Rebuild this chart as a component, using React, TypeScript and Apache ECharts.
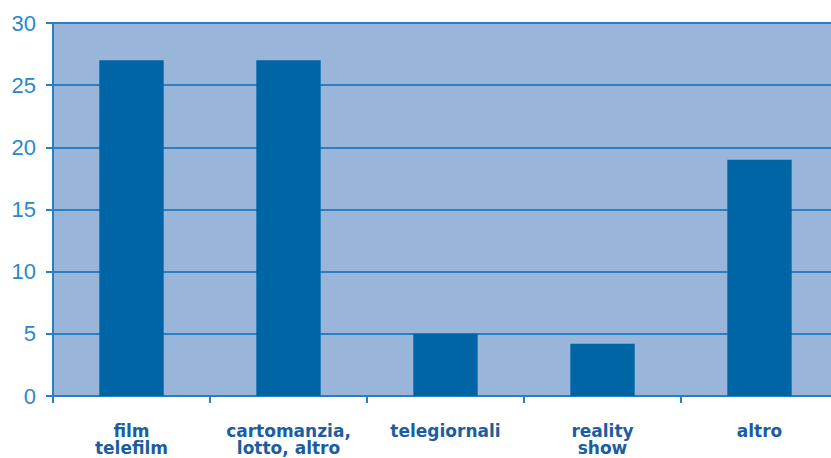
import React, { useEffect, useRef } from "react";
import * as echarts from "echarts";

const categories = ["film\ntelefilm", "cartomanzia,\nlotto, altro", "telegiornali", "reality\nshow", "altro"];
const values = [27, 27, 5, 4.2, 19];
const yTicks = { min: 0, max: 30, interval: 5 };

export default function App() {
  const ref = useRef<HTMLDivElement>(null);
  useEffect(() => {
    const chart = echarts.init(ref.current!, null, { renderer: "svg" });
    chart.setOption({
      animation: false,
      backgroundColor: "#ffffff",
      grid: {
        left: 53,
        top: 23,
        width: 785,
        bottom: 62,
        show: true,
        backgroundColor: "#9ab5da",
        borderWidth: 0,
        outerBoundsMode: "none",
        containLabel: false,
      },
      xAxis: {
        type: "category",
        data: categories,
        axisLine: { lineStyle: { color: "#2a7fc2", width: 2 } },
        axisTick: { show: true, length: 7, lineStyle: { color: "#2a7fc2", width: 2 } },
        axisLabel: {
          color: "#1b5d9f",
          fontFamily: "DejaVu Sans",
          fontWeight: "bold",
          fontSize: 17,
          lineHeight: 17,
          margin: 26,
          interval: 0,
        },
      },
      yAxis: {
        type: "value",
        min: yTicks.min,
        max: yTicks.max,
        interval: yTicks.interval,
        axisLine: { show: true, lineStyle: { color: "#2a7fc2", width: 2 } },
        axisTick: { show: true, length: 7, lineStyle: { color: "#2a7fc2", width: 2 } },
        splitLine: { show: true, lineStyle: { color: "#2a7fc2", width: 2 } },
        axisLabel: {
          color: "#2a88c9",
          fontFamily: "Liberation Sans",
          fontSize: 22,
          margin: 17,
        },
      },
      series: [
        {
          type: "bar",
          data: values,
          barWidth: "41%",
          itemStyle: { color: "#0065a5" },
        },
      ],
    });
    return () => chart.dispose();
  }, []);
  return (
    <div
      ref={ref}
      style={{ position: "fixed", left: 0, top: 0, width: 831, height: 458 }}
    />
  );
}
